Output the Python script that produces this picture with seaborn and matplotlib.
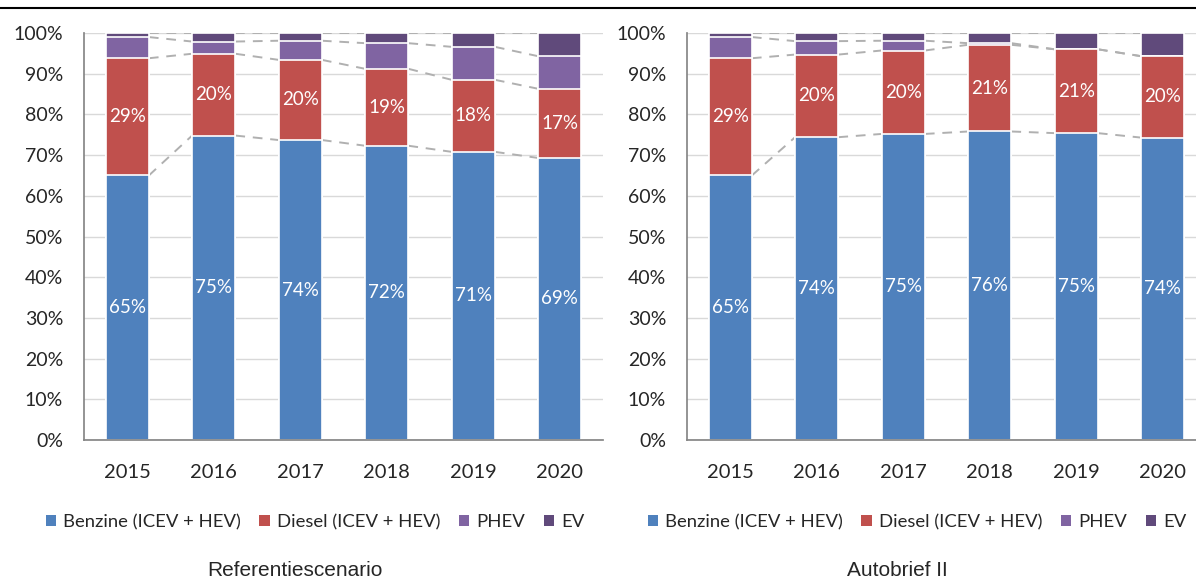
import matplotlib

matplotlib.use("Agg")

import matplotlib.pyplot as plt
import numpy as np
import pandas as pd
import seaborn as sns
from matplotlib.lines import Line2D
from matplotlib.patches import Patch

years = ["2015", "2016", "2017", "2018", "2019", "2020"]
series = ["Benzine (ICEV + HEV)", "Diesel (ICEV + HEV)", "PHEV", "EV"]
colors = ["#4F81BD", "#C0504D", "#8064A2", "#604A7B"]

# percentages
ref_benzine = [65.0, 74.8, 73.7, 72.3, 70.8, 69.3]
ref_diesel = [28.8, 20.1, 19.7, 18.9, 17.7, 17.0]
ref_phev = [5.2, 3.0, 4.7, 6.3, 8.1, 8.0]
ref_ev = [1.0, 2.1, 1.9, 2.5, 3.4, 5.7]

ab_benzine = [65.0, 74.4, 75.2, 75.8, 75.4, 74.3]
ab_diesel = [28.8, 20.3, 20.5, 21.3, 20.6, 20.0]
ab_phev = [5.2, 3.3, 2.4, 0.4, 0.0, 0.0]
ab_ev = [1.0, 2.0, 1.9, 2.5, 4.0, 5.7]

titles = ["Referentiescenario", "Autobrief II"]

FONT = ["Lato", "DejaVu Sans"]
BAR_W = 0.5


def draw_panel(ax, parts):
    cum = np.cumsum(np.array(parts), axis=0)
    # draw totals from the top down so the stacks overlap into segments
    for i in reversed(range(len(series))):
        df = pd.DataFrame({"year": years, "value": cum[i]})
        sns.barplot(
            data=df, x="year", y="value", order=years, color=colors[i],
            saturation=1, width=BAR_W, errorbar=None, ax=ax,
            edgecolor="white", linewidth=1.2, zorder=3,
        )

    # series lines between neighbouring bars
    x = np.arange(len(years))
    for level in cum:
        for j in range(len(years) - 1):
            ax.plot([x[j] + BAR_W / 2, x[j + 1] - BAR_W / 2], [level[j], level[j + 1]],
                    color="#b0b0b0", lw=1.4, ls=(0, (5, 4)), zorder=2)

    # white labels on benzine and diesel
    for j in range(len(years)):
        ax.text(x[j], parts[0][j] / 2, f"{parts[0][j]:.0f}%", ha="center", va="center",
                color="white", fontsize=13.5, family=FONT, zorder=5)
        ax.text(x[j], parts[0][j] + parts[1][j] / 2, f"{parts[1][j]:.0f}%", ha="center",
                va="center", color="white", fontsize=13.5, family=FONT, zorder=5)

    ax.set_xlim(-0.5, len(years) - 0.5)
    ax.set_ylim(0, 100)
    ax.set_yticks(np.arange(0, 101, 10))
    ax.set_yticklabels([f"{v}%" for v in range(0, 101, 10)], family=FONT, fontsize=14)
    ax.set_xticks(x)
    ax.set_xticklabels(years, family=FONT, fontsize=14.5)
    ax.set_xticks(np.arange(-0.5, len(years)), minor=True)
    ax.tick_params(axis="x", which="major", length=0, pad=17)
    ax.tick_params(axis="x", which="minor", length=6, color="#868686")
    ax.tick_params(axis="y", length=5, color="#868686", pad=10)
    ax.set_xlabel("")
    ax.set_ylabel("")
    ax.grid(axis="y", color="#d9d9d9", lw=1, zorder=0)
    ax.grid(axis="x", visible=False)
    for side in ("top", "right"):
        ax.spines[side].set_visible(False)
    for side in ("left", "bottom"):
        ax.spines[side].set_color("#868686")
        ax.spines[side].set_zorder(4)


sns.set_theme(style="white")
plt.rcParams["font.family"] = FONT

fig = plt.figure(figsize=(11.96, 5.8), dpi=100)
ax1 = fig.add_axes([84 / 1196, 140 / 580, 519 / 1196, 407 / 580])
ax2 = fig.add_axes([687 / 1196, 140 / 580, 519 / 1196, 407 / 580])

draw_panel(ax1, [ref_benzine, ref_diesel, ref_phev, ref_ev])
draw_panel(ax2, [ab_benzine, ab_diesel, ab_phev, ab_ev])

handles = [Patch(facecolor=c, edgecolor="none") for c in colors]
for cx in [315 / 1196, 917 / 1196]:
    fig.legend(handles, series, loc="center", bbox_to_anchor=(cx, 58 / 580), ncol=4,
               frameon=False, handlelength=0.55, handleheight=0.55,
               handletextpad=0.4, columnspacing=1.0, prop={"family": FONT, "size": 13.3})
for cx, title in zip([295 / 1196, 897 / 1196], titles):
    fig.text(cx, 9 / 580, title, ha="center", va="center", fontsize=15,
             family=["Liberation Sans", "DejaVu Sans"])

fig.add_artist(Line2D([0, 1], [572 / 580, 572 / 580], color="black", lw=1.5))

fig.savefig("out.png", dpi=100)
